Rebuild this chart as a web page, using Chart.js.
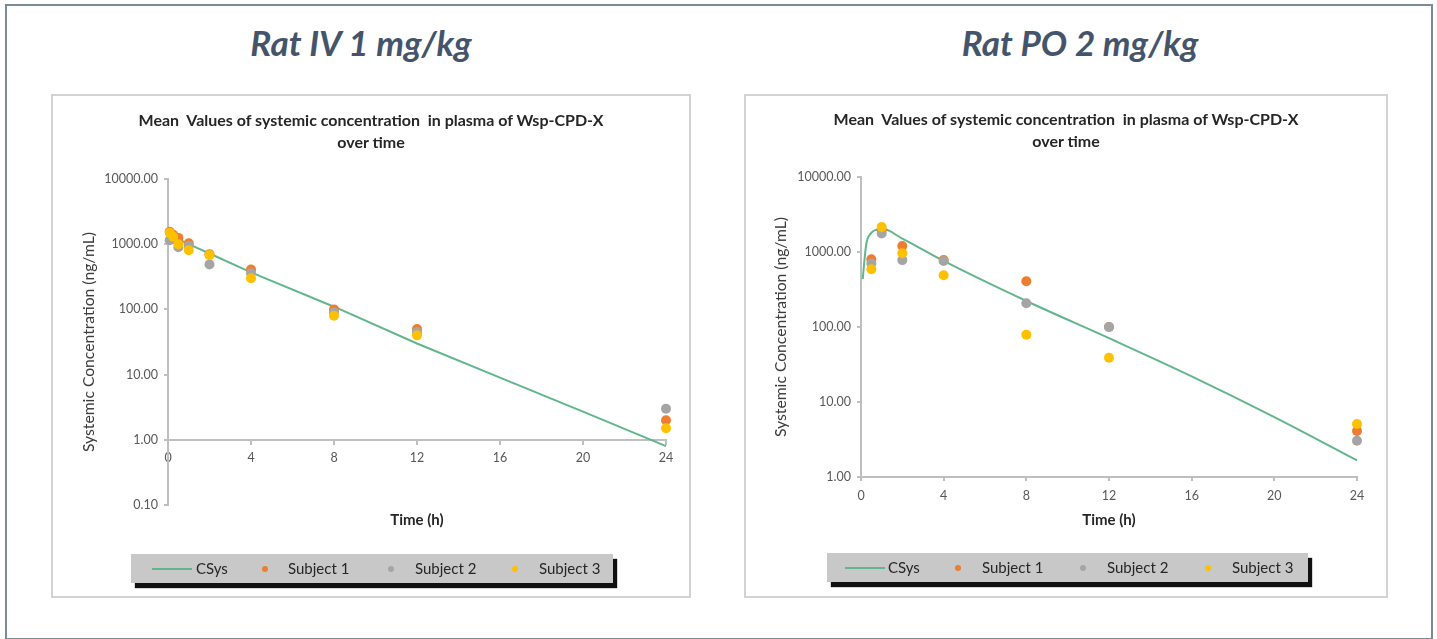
<!DOCTYPE html>
<html><head><meta charset="utf-8">
<script src="https://cdn.jsdelivr.net/npm/chart.js@4.4.1/dist/chart.umd.min.js"></script>
<style>
html,body{margin:0;padding:0;background:#fff;width:1437px;height:639px;overflow:hidden;font-family:Lato,"Open Sans",sans-serif;}
.abs{position:absolute;}
#frame{left:5px;top:4px;width:1428px;height:636px;border:2px solid #7d8a98;box-sizing:border-box;}
.big{font-weight:700;font-style:italic;font-size:35px;color:#44546a;line-height:35px;white-space:nowrap;transform:translateX(-50%);}
.box{border:2px solid #d3d3d3;box-sizing:border-box;background:#fff;}
.ct{font-weight:700;font-size:16px;color:#262626;line-height:22px;text-align:center;white-space:nowrap;transform:translateX(-50%);}
.yt{font-size:15.7px;color:#3a3a3a;white-space:nowrap;line-height:16px;transform:translate(-50%,-50%) rotate(-90deg);}
.xt{font-weight:700;font-size:15px;color:#262626;white-space:nowrap;line-height:15px;transform:translateX(-50%);}
.leg{background:#c8c8c8;box-shadow:4px 5px 1px #111;height:29px;}
.leg span{position:absolute;top:7px;font-size:15px;line-height:15px;color:#262626;white-space:nowrap;}
.leg .ln{position:absolute;top:14px;height:2px;background:#62b68c;}
.leg .dot{position:absolute;top:12px;width:6px;height:6px;border-radius:50%;}
</style>
</head><body>
<div id="frame" class="abs"></div>
<div class="abs big" style="left:361px;top:25px;">Rat IV 1 mg/kg</div>
<div class="abs big" style="left:1080px;top:25px;">Rat PO 2 mg/kg</div>

<div class="abs box" style="left:51px;top:94px;width:640px;height:504px;"></div>
<div class="abs box" style="left:744px;top:94px;width:644px;height:504px;"></div>

<canvas id="cIV" class="abs" style="left:54px;top:97px;" width="634" height="498"></canvas>
<canvas id="cPO" class="abs" style="left:747px;top:97px;" width="638" height="498"></canvas>

<div class="abs ct" style="left:371px;top:109px;">Mean &nbsp;Values of systemic concentration &nbsp;in plasma of Wsp-CPD-X<br>over time</div>
<div class="abs ct" style="left:1066px;top:108px;">Mean &nbsp;Values of systemic concentration &nbsp;in plasma of Wsp-CPD-X<br>over time</div>

<div class="abs yt" style="left:88px;top:342px;">Systemic Concentration (ng/mL)</div>
<div class="abs yt" style="left:780px;top:327px;">Systemic Concentration (ng/mL)</div>

<div class="abs xt" style="left:417px;top:512px;">Time (h)</div>
<div class="abs xt" style="left:1109px;top:512px;">Time (h)</div>

<div id="legIV" class="abs leg" style="left:131px;top:554px;width:482px;"></div>
<div id="legPO" class="abs leg" style="left:827px;top:553px;width:481px;"></div>

<script>
// ---------- data ----------
const seriesNames = ['CSys', 'Subject 1', 'Subject 2', 'Subject 3'];

// Rat IV 1 mg/kg
const ivTimes     = [0.083, 0.25, 0.5, 1, 2, 4, 8, 12, 24];
const ivSubject1  = [1550, 1400, 1250, 1030, 700, 410, 100, 50, 2.0];
const ivSubject2  = [1150, 1200, 900, 950, 490, 360, 90, 45, 3.0];
const ivSubject3  = [1500, 1300, 1000, 810, 680, 300, 80, 40, 1.5];
const ivCsysTimes = [0, 0.25, 0.5, 1, 2, 4, 8, 12, 16, 20, 24];
const ivCsys      = [1400, 1300, 1200, 1000, 720, 370, 110, 30, 9.0, 2.7, 0.8];

// Rat PO 2 mg/kg
const poTimes     = [0.5, 1, 2, 4, 8, 12, 24];
const poSubject1  = [800, 1950, 1200, 780, 407, 100, 4.1];
const poSubject2  = [700, 1760, 780, 760, 207, 100, 3.05];
const poSubject3  = [588, 2150, 960, 490, 79, 39, 5.1];
const poCsysTimes = [0.083, 0.25, 0.5, 0.75, 1, 2, 4, 8, 12, 16, 20, 24];
const poCsys      = [435, 1250, 1800, 1980, 2050, 1510, 760, 222, 71, 22, 6.3, 1.67];

// ticks
const xTicks        = [0, 4, 8, 12, 16, 20, 24];
const xTickLabels   = ['0', '4', '8', '12', '16', '20', '24'];
const yTicksIV      = [0.1, 1, 10, 100, 1000, 10000];
const yTickLabelsIV = ['0.10', '1.00', '10.00', '100.00', '1000.00', '10000.00'];
const yTicksPO      = [1, 10, 100, 1000, 10000];
const yTickLabelsPO = ['1.00', '10.00', '100.00', '1000.00', '10000.00'];

// ---------- style ----------
const COLORS = { csys: '#62b68c', s1: '#ed7d31', s2: '#a5a5a5', s3: '#ffc000' };
const AXIS = '#bfbfbf';
const TICKFONT = { family: 'Lato', size: 12.5 };

function pts(xs, ys) { return xs.map((x, i) => ({ x: x, y: ys[i] })); }

function datasets(cT, cV, t, s1, s2, s3, monotone) {
  const pointDs = (label, data, color, order) => ({
    label, data: pts(t, data), showLine: false, backgroundColor: color, borderColor: color,
    pointRadius: 5, pointHoverRadius: 5, pointBorderWidth: 0, clip: false, order
  });
  return [
    { label: seriesNames[0], data: pts(cT, cV), showLine: true, borderColor: COLORS.csys,
      backgroundColor: COLORS.csys, borderWidth: 2, pointRadius: 0, tension: 0,
      cubicInterpolationMode: monotone ? 'monotone' : 'default', clip: false, order: 3 },
    pointDs(seriesNames[1], s1, COLORS.s1, 2),
    pointDs(seriesNames[2], s2, COLORS.s2, 1),
    pointDs(seriesNames[3], s3, COLORS.s3, 0)
  ];
}

function makeChart(id, ds, yMin, yTicks, yLabels, xPos, padding) {
  const xScale = {
    type: 'linear', min: 0, max: 24,
    afterBuildTicks: s => { s.ticks = xTicks.map(v => ({ value: v })); },
    ticks: { color: '#595959', font: TICKFONT, padding: 7, maxRotation: 0,
             callback: (v, i) => xTickLabels[i] },
    grid: { drawOnChartArea: false, drawTicks: true, tickLength: 4, color: AXIS, lineWidth: 2 },
    border: { color: AXIS, width: 2 },
    afterFit: s => { s.height = 30; }
  };
  if (xPos !== null) xScale.position = { y: xPos };
  new Chart(document.getElementById(id), {
    type: 'scatter',
    data: { datasets: ds },
    options: {
      responsive: false, animation: false, devicePixelRatio: 1,
      layout: { padding },
      plugins: { legend: { display: false }, title: { display: false }, tooltip: { enabled: false } },
      scales: {
        x: xScale,
        y: {
          type: 'logarithmic', min: yMin, max: 10000, position: 'left',
          afterBuildTicks: s => { s.ticks = yTicks.map(v => ({ value: v, major: true })); },
          ticks: { color: '#595959', font: TICKFONT, padding: 6, autoSkip: false,
                   callback: (v, i) => yLabels[i] },
          grid: { drawOnChartArea: false, drawTicks: true, tickLength: 4, color: AXIS, lineWidth: 2 },
          border: { color: AXIS, width: 2 },
          afterFit: s => { s.width = 80; }
        }
      }
    }
  });
}

makeChart('cIV', datasets(ivCsysTimes, ivCsys, ivTimes, ivSubject1, ivSubject2, ivSubject3, false),
  0.1, yTicksIV, yTickLabelsIV, 1, { left: 34, top: 82, right: 22, bottom: 90 });
makeChart('cPO', datasets(poCsysTimes, poCsys, poTimes, poSubject1, poSubject2, poSubject3, true),
  1, yTicksPO, yTickLabelsPO, null, { left: 34, top: 80, right: 28, bottom: 88 });

// ---------- legends ----------
function buildLegend(id, pos) {
  const el = document.getElementById(id);
  const colors = [COLORS.s1, COLORS.s2, COLORS.s3];
  let html = `<div class="ln" style="left:${pos.line[0]}px;width:${pos.line[1] - pos.line[0]}px"></div>` +
             `<span style="left:${pos.text[0]}px">${seriesNames[0]}</span>`;
  for (let i = 0; i < 3; i++) {
    html += `<div class="dot" style="left:${pos.dots[i] - 3}px;background:${colors[i]}"></div>` +
            `<span style="left:${pos.text[i + 1]}px">${seriesNames[i + 1]}</span>`;
  }
  el.innerHTML = html;
}
buildLegend('legIV', { line: [21, 61], text: [65, 157, 284, 408], dots: [134, 260, 384] });
buildLegend('legPO', { line: [18, 58], text: [61, 155, 280, 405], dots: [131, 256, 381] });
</script>
</body></html>
